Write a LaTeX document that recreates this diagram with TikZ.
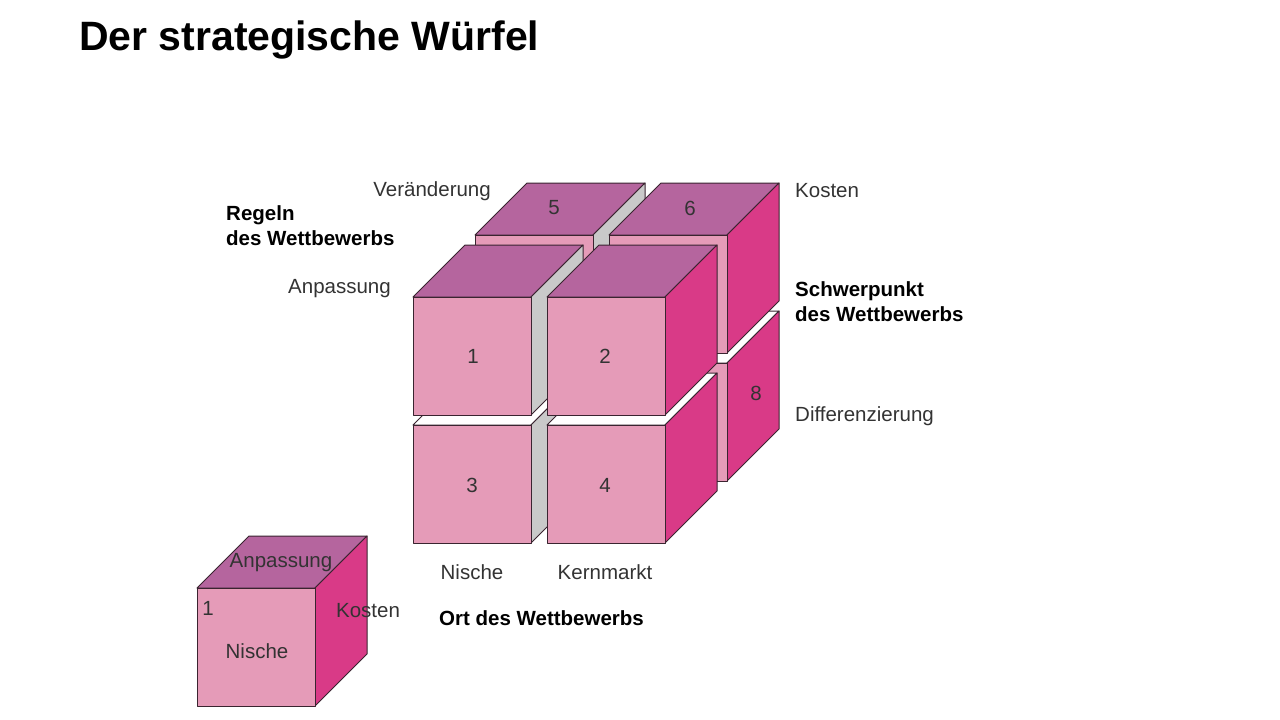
\documentclass[tikz,border=0pt]{standalone}
\usepackage{fontspec}
\setmainfont{Liberation Sans}
\usepackage{xcolor}
\definecolor{frontpink}{HTML}{E59BB8}
\definecolor{toppink}{HTML}{B5659E}
\definecolor{sidepink}{HTML}{D93A87}
\definecolor{hidden}{HTML}{C9C9C9}
\definecolor{edge}{HTML}{3A2430}
\definecolor{textgray}{HTML}{333333}
% cube: front top-left corner (x,y), front, top, right colours
\newcommand{\wuerfel}[5]{%
  \filldraw[face,fill=#4] (#1,#2) -- ++(52,-52) -- ++(118,0) -- ++(-52,52) -- cycle;
  \filldraw[face,fill=#5] (#1+118,#2) -- ++(52,-52) -- ++(0,118) -- ++(-52,52) -- cycle;
  \filldraw[face,fill=#3] (#1,#2) rectangle ++(118,118);
}
\begin{document}
\begin{tikzpicture}[x=1pt,y=-1pt,
    face/.style={draw=edge,line width=1pt,line join=round},
    label/.style={font=\fontsize{20.5}{22}\selectfont,inner sep=0pt,text=textgray},
    heading/.style={label,font=\fontsize{20.5}{25}\selectfont\bfseries,align=left,text=black}]
    \useasboundingbox (0,0) rectangle (1280,720);
    \node[font=\fontsize{41}{45}\selectfont\bfseries,anchor=west,inner sep=0pt] (title) at (79,40) {Der strategische Würfel};
    % back layer
    \wuerfel{609}{363}{frontpink}{white}{sidepink}
    \wuerfel{475}{235}{frontpink}{toppink}{hidden}
    \wuerfel{609}{235}{frontpink}{toppink}{sidepink}
    % front layer
    \wuerfel{413}{425}{frontpink}{white}{hidden}
    \wuerfel{547}{425}{frontpink}{white}{sidepink}
    \wuerfel{413}{297}{frontpink}{toppink}{hidden}
    \wuerfel{547}{297}{frontpink}{toppink}{sidepink}
    % single cube
    \wuerfel{197}{588}{frontpink}{toppink}{sidepink}
    % numbers
    \node[label] (n1) at (473,356) {1};
    \node[label] (n2) at (605,356) {2};
    \node[label] (n3) at (472,485) {3};
    \node[label] (n4) at (605,485) {4};
    \node[label] (n5) at (554,208) {5};
    \node[label] (n6) at (690,208) {6};
    \node[label] (n8) at (756,393) {8};
    % axis labels
    \node[label,anchor=east] (veraenderung) at (491,191) {Veränderung};
    \node[label,anchor=east] (anpassung) at (391,289) {Anpassung};
    \node[heading,anchor=north west] (regeln) at (226,205) {Regeln\\des Wettbewerbs};
    \node[label,anchor=west] (kosten) at (795,191) {Kosten};
    \node[heading,anchor=north west] (schwerpunkt) at (795,281) {Schwerpunkt\\des Wettbewerbs};
    \node[label,anchor=west] (differenzierung) at (795,416) {Differenzierung};
    \node[label] (nische) at (472,572) {Nische};
    \node[label] (kernmarkt) at (605,572) {Kernmarkt};
    \node[heading,anchor=west] (ort) at (439,618) {Ort des Wettbewerbs};
    % single cube labels
    \node[label] (sAnpassung) at (281,563) {Anpassung};
    \node[label] (sEins) at (208,608) {1};
    \node[label] (sKosten) at (368,611) {Kosten};
    \node[label] (sNische) at (257,651) {Nische};
\end{tikzpicture}
\end{document}
